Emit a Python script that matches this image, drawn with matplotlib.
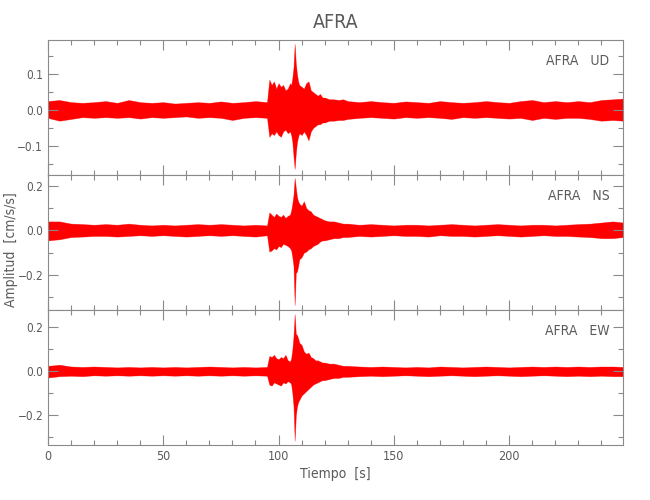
import matplotlib.pyplot as plt
from matplotlib.ticker import MultipleLocator, FuncFormatter

# knot times [s] of the envelope
t = [0, 5, 10, 15, 20, 25, 30, 35, 40, 45, 50, 55, 60, 65, 70, 75, 80, 85, 90, 95,
     96, 97, 98, 99, 100, 101, 102, 103, 104, 105,
     105.5, 106, 106.5, 107, 107.5, 108, 108.5, 109, 110, 111, 112, 113, 114, 115,
     116, 117, 118, 119, 120, 122, 124, 126, 128, 130,
     135, 140, 145, 150, 155, 160, 165, 170, 175, 180, 185, 190, 195, 200, 205,
     210, 215, 220, 225, 230, 235, 240, 245, 249.5]

ud_hi = [0.025, 0.028, 0.022, 0.020, 0.022, 0.025, 0.020, 0.028, 0.022, 0.020,
         0.022, 0.018, 0.020, 0.022, 0.020, 0.024, 0.020, 0.022, 0.025, 0.022,
         0.085, 0.07, 0.08, 0.06, 0.075, 0.065, 0.07, 0.055, 0.06, 0.075,
         0.07, 0.09, 0.12, 0.185, 0.13, 0.10, 0.08, 0.07, 0.065, 0.06, 0.075, 0.08,
         0.055, 0.05, 0.045, 0.04, 0.045, 0.035, 0.035, 0.03, 0.03, 0.028, 0.03, 0.025,
         0.022, 0.025, 0.022, 0.020, 0.024, 0.022, 0.020, 0.025, 0.022, 0.020, 0.022,
         0.025, 0.022, 0.020, 0.025, 0.028, 0.022, 0.025, 0.022, 0.025, 0.022, 0.028,
         0.030, 0.032]
ud_lo = [-0.022, -0.030, -0.025, -0.020, -0.022, -0.020, -0.022, -0.020, -0.024, -0.020,
         -0.022, -0.020, -0.018, -0.022, -0.020, -0.022, -0.028, -0.022, -0.020, -0.022,
         -0.075, -0.065, -0.07, -0.06, -0.07, -0.075, -0.06, -0.055, -0.065, -0.06,
         -0.07, -0.09, -0.13, -0.165, -0.12, -0.09, -0.075, -0.065, -0.07, -0.06, -0.07,
         -0.085, -0.06, -0.05, -0.045, -0.04, -0.04, -0.035, -0.035, -0.03, -0.03,
         -0.028, -0.028, -0.025,
         -0.022, -0.020, -0.022, -0.024, -0.020, -0.022, -0.020, -0.022, -0.025, -0.020,
         -0.022, -0.020, -0.022, -0.024, -0.022, -0.028, -0.022, -0.025, -0.022, -0.022,
         -0.025, -0.030, -0.028, -0.030]

ns_hi = [0.040, 0.040, 0.030, 0.028, 0.025, 0.028, 0.025, 0.030, 0.025, 0.022,
         0.025, 0.022, 0.025, 0.028, 0.025, 0.028, 0.025, 0.022, 0.025, 0.022,
         0.08, 0.07, 0.06, 0.075, 0.065, 0.06, 0.07, 0.055, 0.065, 0.07,
         0.09, 0.12, 0.16, 0.235, 0.19, 0.15, 0.13, 0.12, 0.11, 0.13, 0.10, 0.09,
         0.085, 0.07, 0.065, 0.06, 0.055, 0.05, 0.045, 0.04, 0.04, 0.035, 0.03, 0.03,
         0.025, 0.028, 0.025, 0.022, 0.025, 0.025, 0.022, 0.025, 0.028, 0.025, 0.022,
         0.025, 0.028, 0.025, 0.022, 0.025, 0.025, 0.022, 0.025, 0.028, 0.030, 0.035,
         0.040, 0.035]
ns_lo = [-0.045, -0.040, -0.030, -0.028, -0.025, -0.025, -0.028, -0.025, -0.022, -0.025,
         -0.022, -0.025, -0.028, -0.025, -0.022, -0.025, -0.022, -0.025, -0.028, -0.022,
         -0.095, -0.09, -0.08, -0.085, -0.07, -0.075, -0.06, -0.065, -0.07, -0.08,
         -0.09, -0.12, -0.16, -0.335, -0.19, -0.185, -0.16, -0.13, -0.12, -0.10, -0.095,
         -0.085, -0.08, -0.07, -0.065, -0.06, -0.05, -0.045, -0.045, -0.04, -0.035,
         -0.035, -0.03, -0.03,
         -0.025, -0.028, -0.025, -0.022, -0.025, -0.025, -0.028, -0.022, -0.025, -0.025,
         -0.028, -0.025, -0.022, -0.025, -0.028, -0.025, -0.022, -0.025, -0.025, -0.028,
         -0.030, -0.035, -0.035, -0.030]

ew_hi = [0.025, 0.030, 0.022, 0.020, 0.022, 0.020, 0.018, 0.020, 0.018, 0.020,
         0.018, 0.020, 0.018, 0.020, 0.022, 0.020, 0.018, 0.020, 0.018, 0.020,
         0.07, 0.065, 0.075, 0.06, 0.055, 0.065, 0.06, 0.075, 0.05, 0.045,
         0.06, 0.10, 0.16, 0.26, 0.17, 0.165, 0.15, 0.13, 0.12, 0.09, 0.08, 0.085,
         0.065, 0.06, 0.05, 0.05, 0.045, 0.04, 0.04, 0.035, 0.035, 0.03, 0.025, 0.025,
         0.022, 0.020, 0.022, 0.020, 0.018, 0.020, 0.018, 0.022, 0.020, 0.018, 0.020,
         0.022, 0.020, 0.018, 0.020, 0.022, 0.020, 0.022, 0.020, 0.022, 0.020, 0.022,
         0.022, 0.020]
ew_lo = [-0.028, -0.022, -0.020, -0.022, -0.018, -0.020, -0.018, -0.020, -0.018, -0.020,
         -0.018, -0.020, -0.018, -0.020, -0.018, -0.020, -0.018, -0.020, -0.018, -0.020,
         -0.06, -0.065, -0.05, -0.055, -0.06, -0.065, -0.05, -0.055, -0.045, -0.05,
         -0.06, -0.10, -0.16, -0.315, -0.20, -0.16, -0.14, -0.13, -0.11, -0.10, -0.09,
         -0.08, -0.07, -0.06, -0.055, -0.05, -0.045, -0.04, -0.04, -0.035, -0.03, -0.03,
         -0.025, -0.025,
         -0.022, -0.020, -0.022, -0.020, -0.018, -0.020, -0.022, -0.020, -0.018, -0.020,
         -0.022, -0.020, -0.018, -0.020, -0.022, -0.020, -0.018, -0.020, -0.022, -0.020,
         -0.022, -0.020, -0.022, -0.022]

station = 'AFRA'
comps = ['UD', 'NS', 'EW']
ylims = [(-0.182, 0.196), (-0.357, 0.248), (-0.335, 0.279)]
ymajor = [0.1, 0.2, 0.2]
yminor = [0.05, 0.1, 0.1]
traces = [(ud_lo, ud_hi), (ns_lo, ns_hi), (ew_lo, ew_hi)]

plt.rcParams['font.family'] = ['DejaVu Sans']
plt.rcParams['font.stretch'] = 'condensed'
plt.rcParams['font.weight'] = 'light'
gray = '#5a5a5a'
edge = '#8a8a8a'


def yfmt(v, pos):
    if abs(v) < 1e-9:
        return '0.0'
    return ('%.1f' % v).replace('-', '\u2212')


fig = plt.figure(figsize=(6.5, 5), dpi=100)
bottoms = [0.65, 0.38, 0.11]

for i in range(3):
    ax = fig.add_axes([0.0738, bottoms[i], 0.885, 0.27])
    lo, hi = traces[i]
    ax.fill_between(t, lo, hi, color='#ff8c8c', lw=0.5, edgecolor='#ff8c8c')
    ax.fill_between(t, lo, hi, color='red', lw=0)
    ax.set_xlim(0, 249.5)
    ax.set_ylim(*ylims[i])
    ax.xaxis.set_major_locator(MultipleLocator(50))
    ax.xaxis.set_minor_locator(MultipleLocator(10))
    ax.yaxis.set_major_locator(MultipleLocator(ymajor[i]))
    ax.yaxis.set_minor_locator(MultipleLocator(yminor[i]))
    ax.yaxis.set_major_formatter(FuncFormatter(yfmt))
    ax.tick_params(which='both', direction='in', top=True, right=True,
                   color=edge, labelcolor=gray, labelsize=8.5)
    ax.tick_params(which='major', length=7, width=0.8)
    ax.tick_params(which='minor', length=3.5, width=0.8)
    ax.tick_params(axis='x', labelsize=9)
    for s in ax.spines.values():
        s.set_color(edge)
        s.set_linewidth(0.8)
    if i < 2:
        ax.tick_params(labelbottom=False)
    else:
        ax.set_xlabel('Tiempo  [s]', color=gray, fontsize=10, labelpad=3)
    ax.text(0.976, 0.844, station + '   ' + comps[i], transform=ax.transAxes,
            ha='right', va='center', color=gray, fontsize=10)
    if i == 0:
        ax.set_title(station, color=gray, fontsize=14, pad=9)

fig.text(0.017, 0.5, 'Amplitud  [cm/s/s]', rotation=90, color=gray,
         fontsize=10, ha='center', va='center')

plt.savefig('out.png', dpi=100)
